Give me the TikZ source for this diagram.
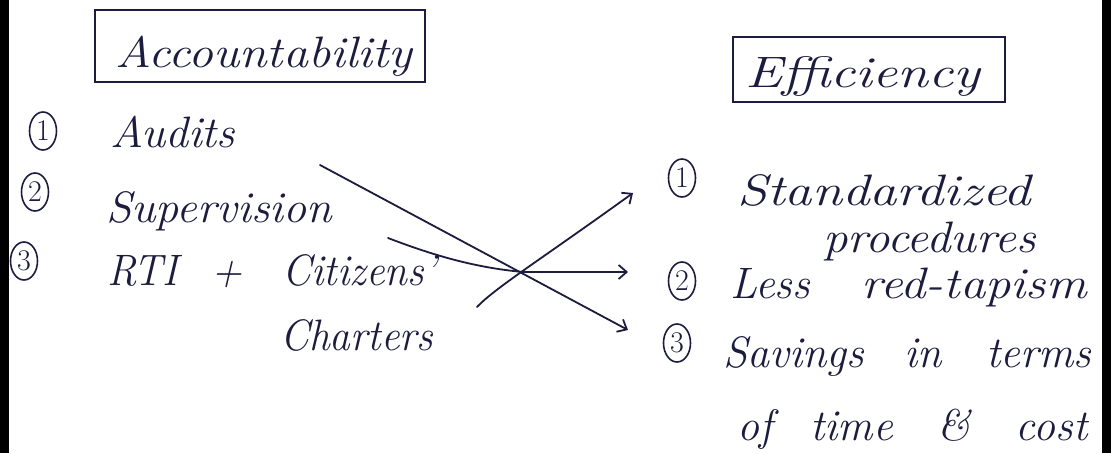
\documentclass[tikz,border=0pt]{standalone}
\usepackage{fontspec}
\usepackage{graphicx}
\usetikzlibrary{shapes.geometric,arrows.meta}
\definecolor{ink}{RGB}{28,28,62}
\newcommand\hsx[2]{\scalebox{#1}[1]{#2}}
\begin{document}
\begin{tikzpicture}[x=1pt,y=-1pt,
  hw/.style={font=\fontsize{44}{48}\selectfont\itshape, text=ink, inner sep=0pt, anchor=base west},
  num/.style={ellipse, draw=ink, line width=1.6pt, minimum width=27pt, minimum height=38pt, inner sep=0pt, text=ink, font=\fontsize{30}{30}\selectfont},
  titlebox/.style={draw=ink, line width=2pt, inner sep=0pt},
  arr/.style={draw=ink, line width=1.8pt, line cap=round, -{Straight Barb[length=8pt,width=14pt,line width=1.8pt]}}]
\useasboundingbox (0,0) rectangle (1111,453);
\fill[white] (0,0) rectangle (1111,453);
% page edges
\fill[black] (0,0) rectangle (9,453);
\fill[black] (1102,0) rectangle (1111,453);
% title boxes
\node[titlebox, minimum width=330pt, minimum height=72pt] (accbox) at (260,46) {};
\node[hw] (acc) at (115,67) {\hsx{1.13}{Accountability}};
\node[titlebox, minimum width=272pt, minimum height=65pt] (effbox) at (869,69) {};
\node[hw] (eff) at (745,87) {\hsx{1.27}{Efficiency}};
% left list
\node[num] (l1) at (43,131) {1};
\node[hw] (audits) at (110,147) {\hsx{1.04}{Audits}};
\node[num] (l2) at (35,192) {2};
\node[hw] (superv) at (106,222) {\hsx{1.05}{Supervision}};
\node[num] (l3) at (24,261) {3};
\node[hw] (rti) at (107,285) {\hsx{0.94}{RTI\hspace{36pt}+\hspace{42pt}Citizens'}};
\node[hw] (charters) at (280,350) {\hsx{0.94}{Charters}};
% right list
\node[num] (r1) at (682,178) {1};
\node[hw] (std) at (737,205) {\hsx{1.24}{Standardized}};
\node[hw] (proc) at (823,252) {\hsx{1.11}{procedures}};
\node[num] (r2) at (682,281) {2};
\node[hw] (less) at (730,298) {Less\hspace{52pt}\hsx{1.15}{red-tapism}};
\node[num] (r3) at (677,343) {3};
\node[hw] (sav) at (723,367) {Savings\hspace{40pt}in\hspace{45pt}terms};
\node[hw] (oftime) at (737,440) {of\hspace{38pt}time\hspace{45pt}\&\hspace{45pt}cost};
% connectors
\coordinate (s1) at (320,165);
\coordinate (e1) at (628,330);
\coordinate (s2) at (388,238);
\coordinate (x) at (523,272);
\coordinate (e2) at (628,272);
\coordinate (s3) at (477,307);
\coordinate (e3) at (633,193);
\draw[arr] (s1) -- (e1);
\draw[arr] (s2) .. controls (440,258) and (480,268) .. (x) -- (e2);
\draw[arr] (s3) .. controls (495,288) and (540,260) .. (e3);
\end{tikzpicture}
\end{document}
